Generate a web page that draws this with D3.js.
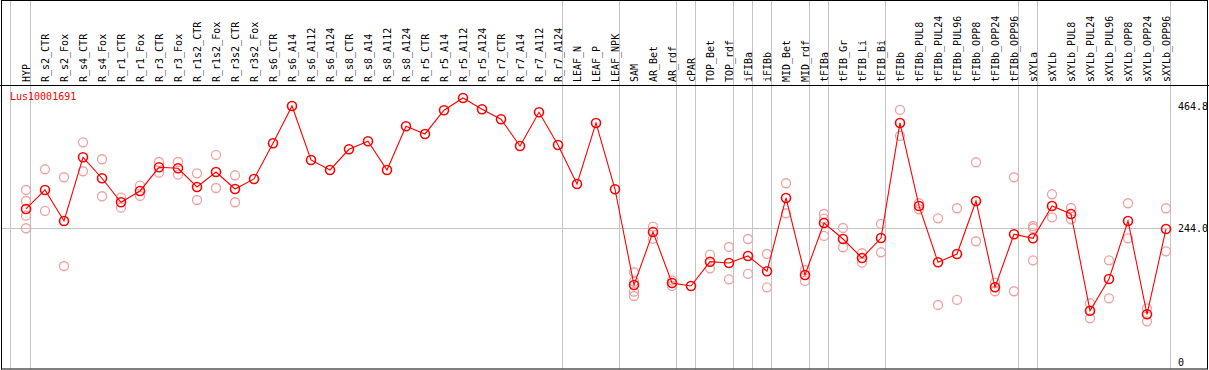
<!DOCTYPE html>
<html>
<head>
<meta charset="utf-8">
<script src="https://cdn.jsdelivr.net/npm/d3@7"></script>
<style>
  html, body { margin: 0; padding: 0; background: #fff; }
  svg { display: block; }
  text { font-family: "DejaVu Sans Mono", "Liberation Mono", monospace; }
</style>
</head>
<body>
<svg id="chart" width="1209" height="370"></svg>
<script>
const title = "Lus10001691";

const categories = ["HYP","R_s2_CTR","R_s2_Fox","R_s4_CTR","R_s4_Fox","R_r1_CTR","R_r1_Fox","R_r3_CTR","R_r3_Fox",
  "R_r1s2_CTR","R_r1s2_Fox","R_r3s2_CTR","R_r3s2_Fox","R_s6_CTR","R_s6_A14","R_s6_A112","R_s6_A124",
  "R_s8_CTR","R_s8_A14","R_s8_A112","R_s8_A124","R_r5_CTR","R_r5_A14","R_r5_A112","R_r5_A124",
  "R_r7_CTR","R_r7_A14","R_r7_A112","R_r7_A124","LEAF_N","LEAF_P","LEAF_NPK","SAM","AR_Bet","AR_rdf",
  "cPAR","TOP_Bet","TOP_rdf","iFIBa","iFIBb","MID_Bet","MID_rdf","tFIBa","tFIB_Gr","tFIB_Li","tFIB_Bi",
  "tFIBb","tFIBb_PUL8","tFIBb_PUL24","tFIBb_PUL96","tFIBb_OPP8","tFIBb_OPP24","tFIBb_OPP96",
  "sXYLa","sXYLb","sXYLb_PUL8","sXYLb_PUL24","sXYLb_PUL96","sXYLb_OPP8","sXYLb_OPP24","sXYLb_OPP96"];

const meanValues = [279.1,313.6,257.3,373.0,334.9,291.3,311.8,354.8,353.0,
  319.1,346.3,315.4,333.6,398.4,466.1,368.1,349.9,
  387.5,402.0,349.9,429.3,415.3,458.3,480.7,460.1,
  442.0,393.5,454.7,395.3,324.5,435.3,314.9,141.1,237.3,144.7,
  139.3,183.4,181.0,193.8,166.0,299.1,159.3,253.7,224.6,190.1,226.4,
  435.3,284.6,182.3,197.4,293.6,136.9,233.2,
  225.9,284.6,270.0,94.4,152.0,257.3,87.9,242.8];

const replicateValues = [
  [313.6,293.6,266.9,244.1],
  [351.2,275.5],
  [336.7,175.6],
  [400.2,347.6],
  [369.4,302.2],
  [299.6,281.5],
  [321.4,302.7],
  [364.4,345.0],
  [364.4,341.4],
  [343.9,295.4],
  [377.2,317.2],
  [340.3,291.3],
  [],
  [], [], [], [], [], [], [], [], [], [], [], [], [], [], [], [], [], [], [],
  [164.2,147.1,128.9,121.1],
  [247.0,225.2],
  [149.6,139.3],
  [],
  [196.1,171.4],
  [210.1,151.4],
  [224.6,161.1],
  [197.4,136.9],
  [325.8,271.3],
  [168.3,148.4],
  [270.0,261.5,230.1],
  [244.6,209.6],
  [198.7,181.6],
  [251.9,200.5],
  [458.9,411.7],
  [289.5,278.6],
  [262.2,104.8],
  [280.4,113.9],
  [363.9,220.5],
  [145.3,129.7],
  [336.7,129.7],
  [248.2,244.1,185.9],
  [305.8,264.0],
  [280.9,260.4],
  [107.9,80.6],
  [185.9,116.9],
  [289.5,225.9],
  [98.8,75.2],
  [280.4,202.3]
];

const yTickValues = [0, 244.0, 464.8];
const yTickLabels = ["0", "244.0", "464.8"];
const gridValues = [244.0];

const groupEnds = ["HYP","R_r7_A124","LEAF_NPK","AR_rdf","cPAR","TOP_rdf","iFIBa","iFIBb","MID_rdf",
  "tFIBa","tFIB_Bi","tFIBb_OPP96","sXYLa","sXYLb_OPP96"];

const W = 1209, H = 370;
const headerY = 85;
const svg = d3.select("#chart");

const x = d3.scalePoint().domain(categories).range([26, 1166]);
const step = x.step();
const y = d3.scaleLinear().domain([0, 464.8]).range([362.7, 106.7]);

const gray = "#c4c4c4";
const red = "#ff0000";
const pink = "#f0a0a0";

// horizontal grid
svg.append("g").selectAll("line").data(gridValues).join("line")
  .attr("x1", 1).attr("x2", Math.floor(x(categories[categories.length-1]) + 4.5) + 0.5)
  .attr("y1", d => Math.round(y(d)) + 0.5).attr("y2", d => Math.round(y(d)) + 0.5)
  .attr("stroke", gray).attr("stroke-width", 1);

// vertical group separators
const sepX = [Math.floor(x(categories[0]) - step * 0.82) + 0.5]
  .concat(groupEnds.map(c => Math.floor(x(c) + 4.5) + 0.5));
svg.append("g").selectAll("line").data(sepX).join("line")
  .attr("x1", d => d).attr("x2", d => d)
  .attr("y1", 0).attr("y2", H - 1)
  .attr("stroke", gray).attr("stroke-width", 1);

// header separator and frame
svg.append("line").attr("x1", 0).attr("x2", W).attr("y1", headerY + 0.5).attr("y2", headerY + 0.5)
  .attr("stroke", "#000").attr("stroke-width", 1);
svg.append("rect").attr("x", 1.5).attr("y", 0.5).attr("width", W - 3).attr("height", H - 1.5)
  .attr("fill", "none").attr("stroke", "#000").attr("stroke-width", 1);

// category labels
svg.append("g").selectAll("text").data(categories).join("text")
  .attr("transform", d => `translate(${x(d) + 0.5},82) rotate(-90)`)
  .attr("text-anchor", "start")
  .attr("dy", "0.3em")
  .attr("font-size", "10px")
  .attr("fill", "#000")
  .text(d => d);

// y-axis labels on right
svg.append("g").selectAll("text").data(yTickValues).join("text")
  .attr("x", 1178).attr("y", d => y(d))
  .attr("dy", "0.35em")
  .attr("font-size", "10px")
  .attr("fill", "#000")
  .text((d, i) => yTickLabels[i]);

// title
svg.append("text").attr("x", 10).attr("y", 100)
  .attr("font-size", "10px").attr("fill", red).text(title);

// replicates
const reps = [];
categories.forEach((c, i) => replicateValues[i].forEach(v => reps.push({c, v})));
svg.append("g").selectAll("circle").data(reps).join("circle")
  .attr("cx", d => x(d.c)).attr("cy", d => y(d.v)).attr("r", 4.5)
  .attr("fill", "none").attr("stroke", pink).attr("stroke-width", 1.3);

// mean line
const pts = categories.map((c, i) => ({c, v: meanValues[i]}));
svg.append("path").datum(pts)
  .attr("d", d3.line().x(d => x(d.c)).y(d => y(d.v)))
  .attr("fill", "none").attr("stroke", red).attr("stroke-width", 1.1);

svg.append("g").selectAll("circle").data(pts).join("circle")
  .attr("cx", d => x(d.c)).attr("cy", d => y(d.v)).attr("r", 4.5)
  .attr("fill", "none").attr("stroke", red).attr("stroke-width", 1.6);
</script>
</body>
</html>
